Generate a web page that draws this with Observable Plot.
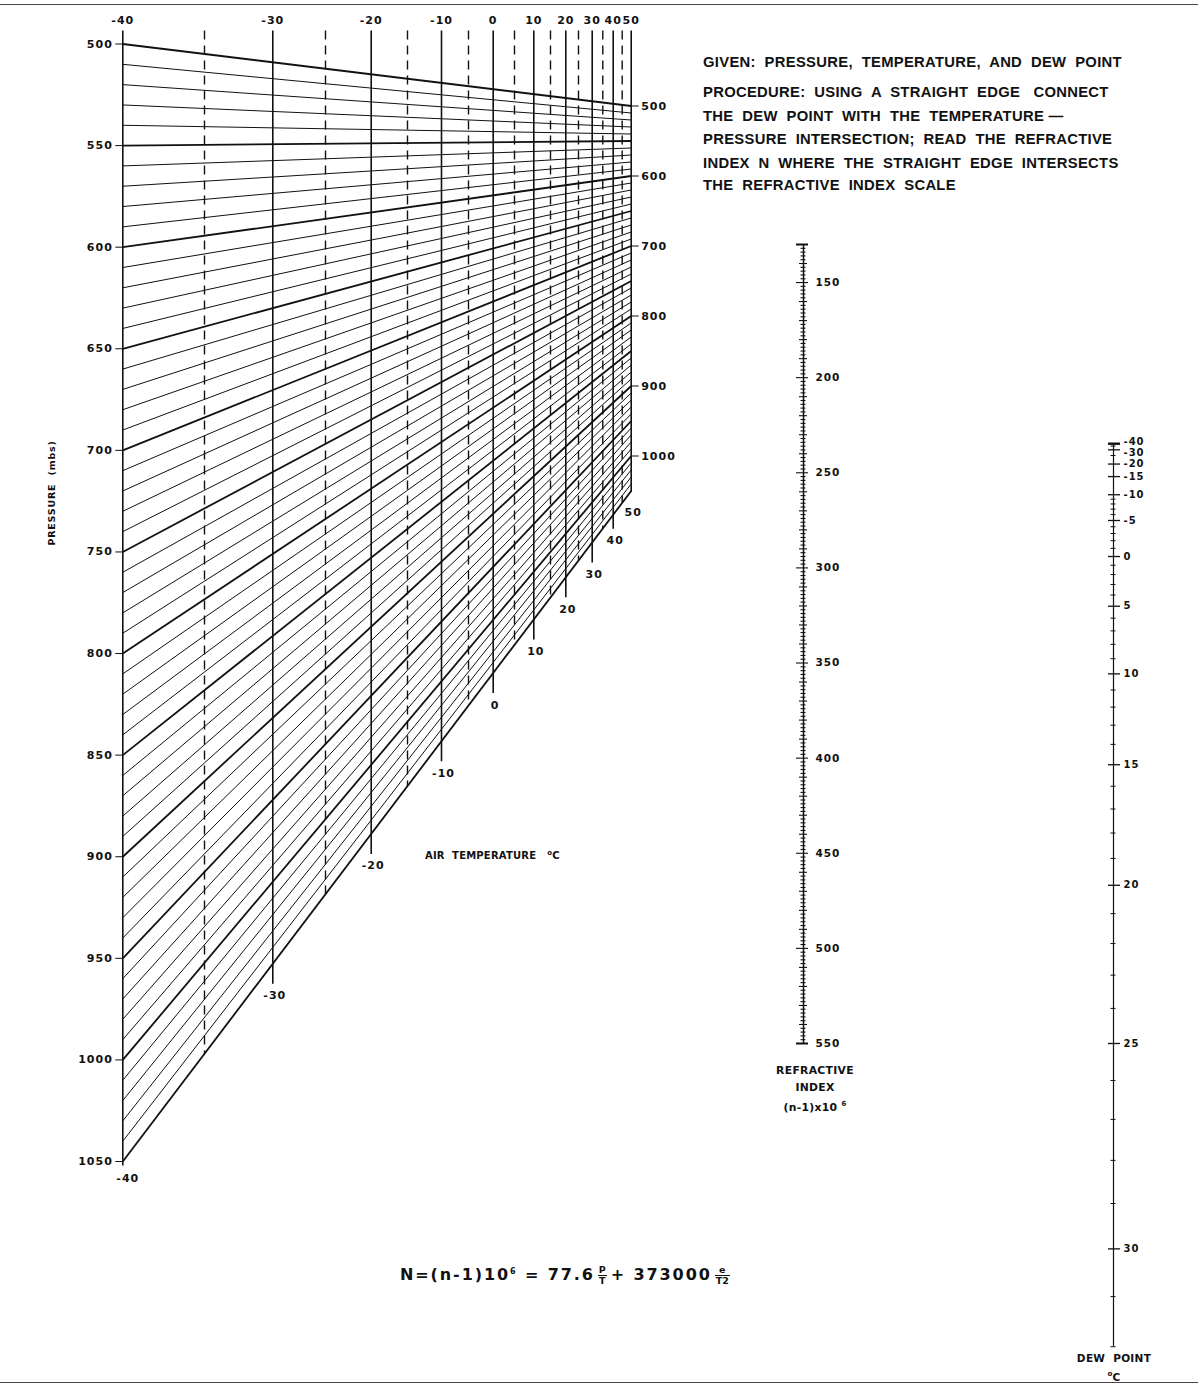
<!DOCTYPE html>
<html>
<head>
<meta charset="utf-8">
<script src="https://cdn.jsdelivr.net/npm/d3@7"></script>
<script src="https://cdn.jsdelivr.net/npm/@observablehq/plot@0.6"></script>
<style>
  body { margin: 0; background: #fff; }
  #wrap { position: relative; width: 1198px; height: 1389px; overflow: hidden; background: #fff; color: #111; }
  #wrap svg { position: absolute; left: 0; top: 0; background: none !important; overflow: visible; }
  .t { position: absolute; white-space: pre; color: #111; font-family: "Liberation Sans", Arial, sans-serif; font-weight: bold; }
  .lab { position: absolute; white-space: pre; color: #111; font-family: "DejaVu Sans", sans-serif; font-weight: bold; }
  .fr { display: inline-block; vertical-align: middle; text-align: center; font-size: 9.5px; line-height: 10px; margin: 0 4px 0 3px; letter-spacing: 0; }
  .fr span { display: block; padding: 0 1px; }
  .fr span:first-child { border-bottom: 1.8px solid #111; }
  .frame { position: absolute; left: 0; width: 1198px; height: 0; border-top: 1.6px solid #444; }
</style>
</head>
<body>
<div id="wrap"></div>
<script>
// ================= DATA =================
const tempStops  = [-40,-35,-30,-25,-20,-15,-10,-5,0,5,10,15,20,25,30,35,40,45,50];
const tempSolid  = [-40,-30,-20,-10,0,10,20,30,40,50];
const tempDashed = [-35,-25,-15,-5,5,15,25,35,45];
const isobars = d3.range(500, 1051, 10);                  // isobars every 10 mb
const pressureTicksLeft  = [500,550,600,650,700,750,800,850,900,950,1000,1050];
const pressureTicksRight = [500,600,700,800,900,1000];
const nLabels = [150,200,250,300,350,400,450,500,550];
const nTicks  = d3.range(130, 551, 2);                    // refractive index ticks every 2 units
const dewLabels = [-40,-30,-20,-15,-10,-5,0,5,10,15,20,25,30];
const dewTicks  = [-40,-35,-30,-25,-20,-15].concat(d3.range(-10, 33, 1));

// ================= LAYOUT (scale ranges, px) =================
const W = 1198, H = 1389;
const tempPx = [122.3,204,272.3,325,370.7,407,441,468,492.7,514,533.3,550,565.3,578,591.7,602.3,612.7,621.7,630.7];
const leftRange  = [43.5, 1161];     // pressure 500..1050 along -40 °C line
const rightRange = [105.5, 455.5];   // pressure 500..1000 along +50 °C line
const gridTop = 30;
const nAxisX = 803, nRange = [244, 1043];      // N 130..550
const dewAxisX = 1113, dewRange = [439.6, 1392.1]; // vapour pressure 0..50 hPa

// scale helpers (mirror the Plot scales)
const xT = d3.scaleLinear(tempStops, tempPx);
const yL = d3.scaleLinear([500, 1050], leftRange);
const yR = d3.scaleLinear([500, 1000], rightRange);
const uRight = p => yL.invert(yR(p));                       // right end of isobar in left-pressure units
const frac = t => (xT(t) - xT(-40)) / (xT(50) - xT(-40));
const uAt = (t, p) => p + (uRight(p) - p) * frac(t);
const pxToU = px => px / ((leftRange[1] - leftRange[0]) / 550);
const topU = yL.invert(gridTop);
const extPx = t => (t === -40 ? 4 : t === 50 ? 1 : t === 40 ? 14 : 20);
const bottomU = t => uAt(t, 1050) + pxToU(extPx(t));
const satVP = td => 6.112 * Math.exp(17.67 * td / (td + 243.5)); // dew-point scale is linear in e

const baseStyle = {
  background: "none", fontFamily: "DejaVu Sans, sans-serif", fontWeight: "bold",
  fontSize: "11px", letterSpacing: "1px", color: "#111", overflow: "visible"
};
const ink = "#111";
const wrap = document.getElementById("wrap");

// ================= GRID (temperature x pressure) =================
const grid = Plot.plot({
  width: W, height: H,
  margin: 0, marginTop: gridTop, marginLeft: tempPx[0],
  style: baseStyle,
  x: { type: "linear", domain: tempStops, range: tempPx, axis: "top", ticks: tempSolid,
       tickSize: 0, tickPadding: 7, tickFormat: d => String(d), label: null },
  y: { type: "linear", domain: [500, 1050], range: leftRange, axis: "left", ticks: pressureTicksLeft,
       tickSize: 7, tickPadding: 3, tickFormat: d => String(d), label: null },
  marks: [
    Plot.link(isobars, {
      x1: () => -40, x2: () => 50, y1: p => p, y2: p => uRight(p),
      stroke: ink, strokeWidth: p => (p % 50 === 0 ? 1.8 : 1.0)
    }),
    Plot.link(tempDashed, {
      x1: t => t, x2: t => t, y1: () => topU, y2: t => uAt(t, 1050),
      stroke: ink, strokeWidth: 1.4, strokeDasharray: "9,6"
    }),
    Plot.link(tempSolid, {
      x1: t => t, x2: t => t, y1: () => topU, y2: t => bottomU(t),
      stroke: ink, strokeWidth: 1.6
    }),
    Plot.text(tempSolid.filter(t => t > -40 && t < 50), {
      x: t => t, y: t => bottomU(t), text: t => String(t), dy: 12, dx: 2,
      fill: ink, fontSize: 11, fontWeight: "bold"
    }),
    Plot.text([-40], { x: t => t, y: t => bottomU(t), text: t => String(t), dy: 13, dx: 5, fill: ink, fontSize: 11, fontWeight: "bold" }),
    Plot.text([50], { x: t => t, y: t => bottomU(t), text: t => String(t), dy: 20, dx: 2, fill: ink, fontSize: 11, fontWeight: "bold" })
  ]
});
wrap.appendChild(grid);

// ================= right-hand pressure scale on the +50 °C line =================
const rightP = Plot.plot({
  width: W, height: H,
  margin: 0, marginRight: W - tempPx[tempPx.length - 1],
  style: baseStyle,
  y: { type: "linear", domain: [500, 1000], range: rightRange, axis: "right", ticks: pressureTicksRight,
       tickSize: 7, tickPadding: 3, tickFormat: d => String(d), label: null },
  marks: []
});
wrap.appendChild(rightP);

// ================= refractive index scale =================
const nKind = n => (n % 50 === 0 || n === 130 || n === 550) ? 2 : (n % 10 === 0 ? 1 : 0);
const nScale = Plot.plot({
  width: W, height: H, margin: 0,
  style: baseStyle,
  x: { type: "linear", domain: [-20, 20], range: [nAxisX - 20, nAxisX + 20], axis: null },
  y: { type: "linear", domain: [130, 550], range: nRange, axis: null },
  marks: [
    Plot.ruleX([{ lo: 130, hi: 550 }], { x: () => 0, y1: d => d.lo, y2: d => d.hi, stroke: ink, strokeWidth: 1.5 }),
    Plot.ruleY(nTicks, {
      y: n => n,
      x1: n => [-2.5, -4, -7][nKind(n)], x2: n => [2.5, 4, 5][nKind(n)],
      stroke: ink, strokeWidth: n => (n === 130 || n === 550 ? 2 : 1.1)
    }),
    Plot.text(nLabels, { x: () => 0, y: n => n, text: n => String(n), dx: 12, textAnchor: "start",
      fill: ink, fontSize: 10.5, fontWeight: "bold" })
  ]
});
wrap.appendChild(nScale);

// ================= dew point scale =================
const dewIsLabel = new Set(dewLabels);
const dewScale = Plot.plot({
  width: W, height: H, margin: 0,
  style: baseStyle,
  x: { type: "linear", domain: [-20, 20], range: [dewAxisX - 20, dewAxisX + 20], axis: null },
  y: { type: "linear", domain: [0, 50], range: dewRange, axis: null },
  marks: [
    Plot.ruleX([{ lo: -40, hi: 32 }], { x: () => 0, y1: d => satVP(d.lo), y2: d => satVP(d.hi), stroke: ink, strokeWidth: 1.2 }),
    Plot.ruleY(dewTicks, {
      y: d => satVP(d),
      x1: d => (dewIsLabel.has(d) ? -5 : -2.5), x2: d => (dewIsLabel.has(d) ? 7 : 2.5),
      stroke: ink, strokeWidth: d => (d === -40 ? 2.4 : dewIsLabel.has(d) ? 1.3 : 1)
    }),
    Plot.text(dewLabels.filter(d => d !== -40 && d !== -30), { x: () => 0, y: d => satVP(d), text: d => String(d), dx: 10, textAnchor: "start",
      fill: ink, fontSize: 10, fontWeight: "bold" }),
    Plot.text([-40], { x: () => 0, y: d => satVP(d), text: d => String(d), dx: 10, dy: -2, textAnchor: "start", fill: ink, fontSize: 10, fontWeight: "bold" }),
    Plot.text([-30], { x: () => 0, y: d => satVP(d), text: d => String(d), dx: 10, dy: 3, textAnchor: "start", fill: ink, fontSize: 10, fontWeight: "bold" })
  ]
});
wrap.appendChild(dewScale);

// ================= TEXT =================
function addText(html, css, cls) {
  const d = document.createElement("div");
  d.className = cls || "t";
  d.innerHTML = html;
  Object.assign(d.style, css);
  wrap.appendChild(d);
  return d;
}
// frame lines
addText("", { top: "4px" }, "frame");
addText("", { top: "1382px" }, "frame");

const instr = [
  ["GIVEN:  PRESSURE,  TEMPERATURE,  AND  DEW  POINT", 62.7],
  ["PROCEDURE:  USING  A  STRAIGHT  EDGE   CONNECT", 92.3],
  ["THE  DEW  POINT  WITH  THE  TEMPERATURE \u2014", 116],
  ["PRESSURE  INTERSECTION;  READ  THE  REFRACTIVE", 139.3],
  ["INDEX  N  WHERE  THE  STRAIGHT  EDGE  INTERSECTS", 163.3],
  ["THE  REFRACTIVE  INDEX  SCALE", 185.7]
];
instr.forEach(([s, y]) => addText(s, { left: "703px", top: (y - 9.5) + "px", fontSize: "14.8px", lineHeight: "19px", fontWeight: "bold", letterSpacing: "0.3px" }));

addText("AIR  TEMPERATURE   <sup style='font-size:7px'>o</sup>C", { left: "425px", top: "846px", fontSize: "10px", lineHeight: "14px", letterSpacing: "0.2px" }, "lab");

addText("PRESSURE  (mbs)", { left: "52px", top: "493px", fontSize: "9.5px", lineHeight: "12px", letterSpacing: "0.8px",
  transform: "translate(-50%,-50%) rotate(-90deg)" }, "lab");

addText("REFRACTIVE<br>INDEX<br>(n-1)x10 <sup style='font-size:7px'>6</sup>", { left: "815px", top: "1063px", fontSize: "10.8px", lineHeight: "16.5px",
  textAlign: "center", transform: "translateX(-50%)", letterSpacing: "0.3px" }, "lab");

addText("DEW  POINT<br><sup style='font-size:7px'>o</sup>C", { left: "1114px", top: "1350px", fontSize: "10.5px", lineHeight: "16px",
  textAlign: "center", transform: "translateX(-50%)", letterSpacing: "0.3px" }, "lab");

addText("N=(n-1)10<sup style='font-size:8px'>6</sup> = 77.6<span class='fr'><span>P</span><span>T</span></span>+ 373000<span class='fr'><span>e</span><span>T2</span></span>",
  { left: "400px", top: "1260px", fontSize: "16px", lineHeight: "24px", letterSpacing: "1.9px" }, "lab");
</script>
</body>
</html>
